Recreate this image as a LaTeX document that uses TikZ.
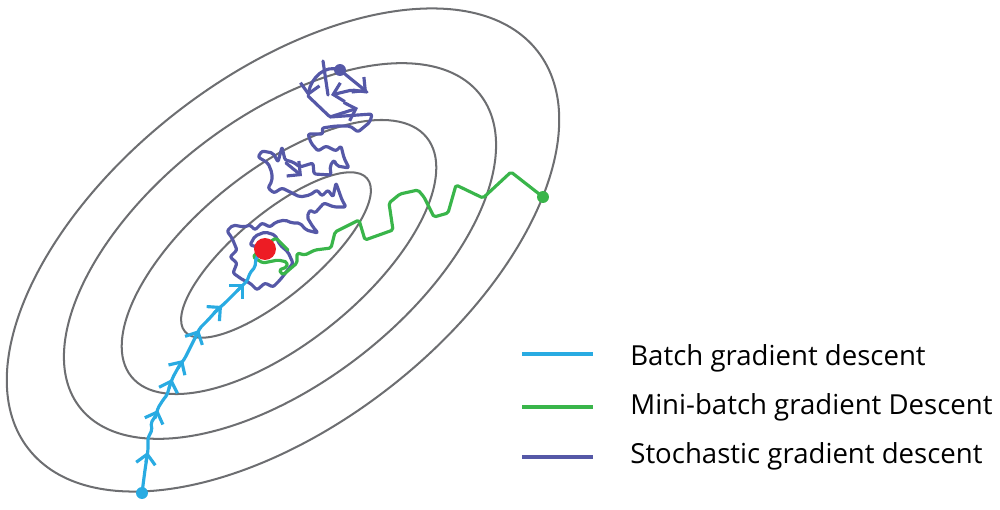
\documentclass[tikz,border=0pt]{standalone}
\usepackage{fontspec}
\setmainfont{Open Sans}
\usetikzlibrary{arrows.meta}
\definecolor{cgray}{HTML}{6D6E71}
\definecolor{cblue}{HTML}{29ABE2}
\definecolor{cgreen}{HTML}{39B54A}
\definecolor{cpurple}{HTML}{5558A7}
\definecolor{cred}{HTML}{ED1C24}
\tikzset{
  ell/.style={draw=cgray, line width=1.15pt},
  pathline/.style={line width=1.8pt, line join=round, line cap=round},
  dotnode/.style={circle, inner sep=0pt, minimum size=6.8pt},
  barb/.style={-{Straight Barb[length=5.5pt,width=11pt]}},
  legline/.style={line width=2.8pt},
  legtext/.style={anchor=base west, font=\fontsize{15.7}{18}\selectfont, inner sep=0pt}
}
\begin{document}
\begin{tikzpicture}[x=0.02cm,y=-0.02cm]
\useasboundingbox (0,0) rectangle (1000,510);
% contour ellipses
\draw[ell, rotate around={40:(276,255)}] (276,255) ellipse [x radius=119, y radius=41];
\draw[ell, rotate around={39:(279,257)}] (279,257) ellipse [x radius=190, y radius=86];
\draw[ell, rotate around={38:(280,251)}] (280,251) ellipse [x radius=254, y radius=132];
\draw[ell, rotate around={38:(283,250)}] (283,250) ellipse [x radius=323, y radius=174];

% named points
\coordinate (minpt) at (265,249);
\coordinate (bst) at (142,493);
\coordinate (gst) at (543,197);
\coordinate (pst) at (340,70);

% stochastic (purple)
\begin{scope}[cpurple, pathline, rounded corners=1.2pt]
\draw[barb] (pst) -- (367,92);
\draw[barb] (367,92) -- (352,90) -- (331,95);
\draw[barb] (pst) .. controls (325,64) and (311,78) .. (308,96);
\draw (323,61) -- (328,95);
\draw[barb] (308,96) -- (330,117) -- (358,108);
\draw[barb] (286,163) -- (302,176);
\draw (330,117) -- (372,114) -- (370,122) -- (358,132) -- (350,126) -- (336,126) -- (322,128) -- (323,134) -- (308,134) -- (311,143) -- (318,151) -- (326,146) -- (336,151) -- (341,146) -- (344,158) -- (349,168) -- (337,166) -- (334,160) -- (330,166) -- (331,175) -- (314,174) -- (313,163) -- (300,167) -- (293,162) -- (285,160) -- (282,147) -- (278,162) -- (273,153) -- (262,151) -- (258,157) -- (268,163) -- (272,173) -- (272,181) -- (268,188) -- (274,193) -- (282,188) -- (290,192) -- (300,197) -- (310,195) -- (317,190) -- (322,196) -- (328,190) -- (333,197) -- (336,183) -- (342,200) -- (346,207) -- (334,207) -- (324,203) -- (315,213) -- (310,210) -- (307,217) -- (313,227) -- (318,233) -- (306,230) -- (300,223) -- (292,223) -- (285,220) -- (276,222) -- (270,227) -- (262,223) -- (255,230) -- (250,225) -- (244,227) -- (233,225) -- (227,231) -- (232,238) -- (237,250) -- (230,257) -- (237,263) -- (233,273) -- (243,280) -- (250,283) -- (257,290) -- (265,283) -- (273,287) -- (280,280) -- (287,271) -- (293,263) -- (288,252) -- (280,245) -- (275,235) -- (265,232) -- (255,236) -- (250,245) -- (minpt);
\end{scope}

% mini-batch (green)
\draw[cgreen, pathline, rounded corners=1pt] (gst) -- (511,172) -- (483,198) -- (456,185) -- (448,213) -- (434,217) -- (424,197) -- (418,190) -- (400,194) -- (389,203) -- (393,230) -- (365,240) -- (359,220) -- (335,232) -- (331,248) -- (315,250) -- (305,255) -- (297,253) -- (297,263) -- (283,275) -- (279,270) -- (287,267) -- (287,262) -- (278,260) -- (263,263) -- (253,257) -- (262,247) -- (276,238) -- (288,250);

% batch (blue)
\begin{scope}[cblue, pathline]
\draw[rounded corners=1pt]
  (bst) -- (145,470) -- (148,450) -- (148,438) -- (152,430) -- (151,423) -- (156,415) -- (158,408) -- (163,400) -- (167,395) -- (170,385) -- (173,377) -- (178,368) -- (185,358) -- (190,348) -- (195,338) -- (200,328) -- (208,320) -- (217,310) -- (225,303) -- (233,295) -- (240,288) -- (247,281) -- (250,273) -- (255,267) -- (256,258) -- (262,252);
\draw[barb] (146,462) -- (147.6,452);
\draw[barb] (155,418) -- (158,410);
\draw[barb] (169,388) -- (172,379);
\draw[barb] (178,368) -- (183,360);
\draw[barb] (195,338) -- (199,330);
\draw[barb] (214,313) -- (222,306);
\draw[barb] (237,291) -- (244,284);
\end{scope}

% dots
\node[dotnode, fill=cpurple] (pdot) at (pst) {};
\node[dotnode, fill=cgreen] (gdot) at (gst) {};
\node[dotnode, fill=cblue] (bdot) at (bst) {};
\node[circle, inner sep=0pt, minimum size=12.5pt, fill=cred] (mindot) at (minpt) {};

% legend
\coordinate (l1a) at (522,354); \coordinate (l1b) at (593,354);
\coordinate (l2a) at (522,407); \coordinate (l2b) at (593,407);
\coordinate (l3a) at (522,457); \coordinate (l3b) at (593,457);
\draw[legline, cblue] (l1a) -- (l1b);
\draw[legline, cgreen] (l2a) -- (l2b);
\draw[legline, cpurple] (l3a) -- (l3b);
\node[legtext] (t1) at (630,365) {Batch gradient descent};
\node[legtext] (t2) at (630,414) {Mini-batch gradient Descent};
\node[legtext] (t3) at (630,463) {Stochastic gradient descent};
\end{tikzpicture}
\end{document}
